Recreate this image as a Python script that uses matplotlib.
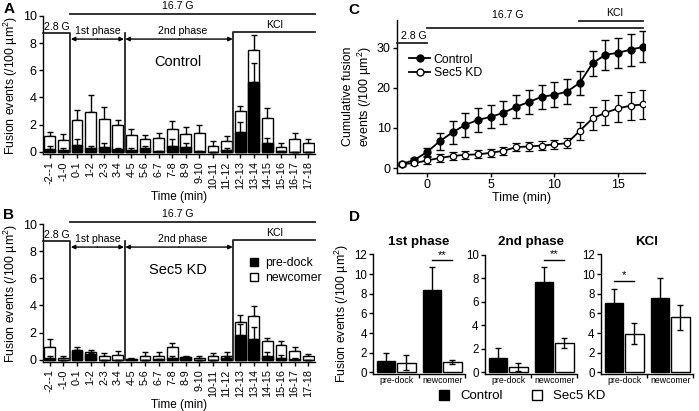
import matplotlib
matplotlib.use('Agg')
import matplotlib.pyplot as plt
from matplotlib.patches import Patch
from matplotlib.lines import Line2D
import numpy as np

plt.rcParams['font.family'] = ['Liberation Sans', 'DejaVu Sans']
plt.rcParams['mathtext.fontset'] = 'custom'
plt.rcParams['mathtext.rm'] = 'Liberation Sans'
plt.rcParams['mathtext.it'] = 'Liberation Sans:italic'
plt.rcParams['axes.linewidth'] = 1.0
plt.rcParams['xtick.major.width'] = 1.0
plt.rcParams['ytick.major.width'] = 1.0
plt.rcParams['xtick.major.size'] = 3
plt.rcParams['ytick.major.size'] = 3

# ---------------- data ----------------
time_bins = ['-2--1', '-1-0', '0-1', '1-2', '2-3', '3-4', '4-5', '5-6', '6-7', '7-8',
             '8-9', '9-10', '10-11', '11-12', '12-13', '13-14', '14-15', '15-16',
             '16-17', '17-18']

ctrl_total = [1.14, 0.86, 2.37, 2.9, 2.42, 1.98, 1.2, 0.96, 1.0, 1.68,
              1.3, 1.38, 0.44, 0.81, 3.0, 7.53, 2.5, 0.37, 0.94, 0.62]
ctrl_total_err = [0.29, 0.45, 0.67, 1.27, 0.91, 0.39, 0.45, 0.24, 0.36, 0.57,
                  0.55, 0.55, 0.33, 0.38, 0.38, 1.07, 0.73, 0.25, 0.44, 0.32]
ctrl_predock = [0.2, 0.12, 0.5, 0.3, 0.37, 0.2, 0.15, 0.3, 0.05, 0.4,
                0.37, 0.05, 0.0, 0.15, 1.48, 5.14, 0.62, 0.05, 0.0, 0.0]
ctrl_predock_err = [0.2, 0.12, 0.4, 0.15, 0.27, 0.1, 0.1, 0.1, 0.0, 0.5,
                    0.27, 0.0, 0.0, 0.12, 0.69, 1.4, 0.38, 0.0, 0.0, 0.0]

kd_total = [0.94, 0.1, 0.74, 0.57, 0.3, 0.34, 0.08, 0.3, 0.3, 0.91,
            0.2, 0.1, 0.3, 0.3, 2.78, 3.2, 1.38, 1.1, 0.64, 0.25]
kd_total_err = [0.61, 0.2, 0.2, 0.17, 0.2, 0.3, 0.05, 0.27, 0.27, 0.32,
                0.1, 0.2, 0.2, 0.25, 0.5, 0.79, 0.25, 0.25, 0.3, 0.15]
kd_predock = [0.1, 0.0, 0.62, 0.4, 0.0, 0.0, 0.08, 0.0, 0.05, 0.12,
              0.2, 0.0, 0.0, 0.1, 1.8, 1.55, 0.25, 0.1, 0.05, 0.0]
kd_predock_err = [0.2, 0.0, 0.12, 0.1, 0.0, 0.0, 0.0, 0.0, 0.0, 0.18,
                  0.0, 0.0, 0.0, 0.1, 0.86, 0.86, 0.32, 0.22, 0.1, 0.0]

cum_time = [-2, -1, 0, 1, 2, 3, 4, 5, 6, 7, 8, 9, 10, 11, 12, 13, 14, 15, 16, 17]
cum_ctrl = [1.0, 2.0, 4.0, 6.7, 8.9, 10.8, 12.0, 12.8, 13.8, 15.3,
            16.5, 17.8, 18.3, 19.1, 21.3, 26.2, 28.3, 28.8, 29.6, 30.3]
cum_ctrl_err = [0.4, 0.4, 1.0, 2.1, 2.9, 3.0, 2.9, 2.9, 2.9, 2.9,
                2.9, 3.0, 3.1, 3.2, 3.0, 3.1, 3.7, 3.8, 4.0, 3.9]
cum_kd = [1.0, 1.2, 1.9, 2.5, 3.0, 3.3, 3.4, 3.8, 4.3, 5.2,
          5.4, 5.6, 5.9, 6.2, 9.3, 12.4, 13.8, 14.9, 15.6, 15.9]
cum_kd_err = [0.3, 0.4, 0.8, 1.0, 1.0, 1.0, 1.0, 1.0, 1.0, 1.0,
              1.1, 1.2, 1.2, 1.3, 2.2, 2.8, 3.1, 3.3, 3.5, 3.6]

d_groups = ['pre-dock', 'newcomer']
d_titles = ['1st phase', '2nd phase', 'KCl']
d_ctrl = [[1.2, 8.4], [1.2, 7.65], [7.1, 7.6]]
d_ctrl_err = [[0.75, 2.35], [0.85, 1.3], [1.35, 2.05]]
d_kd = [[1.0, 1.05], [0.45, 2.5], [3.95, 5.6]]
d_kd_err = [[0.8, 0.22], [0.3, 0.4], [1.05, 1.25]]
d_ymax = [12, 10, 12]
d_sig = [('**', 1, 11.4), ('**', 1, 9.55), ('*', 0, 9.3)]

W, H = 699, 411
fig = plt.figure(figsize=(W / 100, H / 100), dpi=100)


def fr(left, top, right, bottom):
    return [left / W, 1 - bottom / H, (right - left) / W, (bottom - top) / H]


ylab = 'Fusion events (/100 µm$^2$)'


def bar_panel(ax, total, total_err, pre, pre_err, label):
    x = np.arange(len(time_bins))
    ax.bar(x, total, width=0.8, color='white', edgecolor='black', linewidth=1.0, zorder=2)
    ax.errorbar(x, total, yerr=[np.zeros(len(x)), total_err], fmt='none', ecolor='black',
                elinewidth=1.0, capsize=2.3, capthick=1.0, zorder=1)
    ax.bar(x, pre, width=0.8, color='black', edgecolor='black', linewidth=1.0, zorder=3)
    ax.errorbar(x, pre, yerr=[np.zeros(len(x)), pre_err], fmt='none', ecolor='black',
                elinewidth=1.0, capsize=2.3, capthick=1.0, zorder=4)
    ax.set_xlim(-0.5, 19.5)
    ax.set_ylim(-0.2, 10)
    ax.set_yticks([0, 2, 4, 6, 8, 10])
    ax.set_xticks(x)
    ax.set_xticklabels(time_bins, rotation=90, fontsize=7.8)
    ax.tick_params(axis='y', labelsize=9, pad=1.5)
    ax.tick_params(axis='x', pad=2)
    for s in ['top', 'right']:
        ax.spines[s].set_visible(False)
    ax.set_ylabel(ylab, fontsize=8.8, labelpad=2)
    ax.set_xlabel('Time (min)', fontsize=8.5, labelpad=1)
    lk = dict(color='#222222', lw=1.3, clip_on=False, zorder=5)
    ax.plot([1.5, 19.5], [10.12, 10.12], **lk)
    ax.text(9.4, 10.35, '16.7 G', fontsize=7.6, ha='center', va='bottom')
    ax.plot([-0.5, 1.5, 1.5], [8.75, 8.75, 0], **lk)
    ax.text(0.55, 8.85, '2.8 G', fontsize=7.6, ha='center', va='bottom')
    ax.plot([5.5, 5.5], [8.75, 0], **lk)
    ax.plot([13.5, 13.5, 19.5], [0, 8.8, 8.8], **lk)
    ax.text(16.55, 8.95, 'KCl', fontsize=7.6, ha='center', va='bottom')
    ap = dict(arrowstyle='-|>', color='black', lw=1.0, mutation_scale=6, shrinkA=0, shrinkB=0)
    for a, b, t in [(1.5, 5.5, '1st phase'), (5.5, 13.5, '2nd phase')]:
        ax.annotate('', xy=(a + 0.05, 8.3), xytext=((a + b) / 2, 8.3), arrowprops=ap)
        ax.annotate('', xy=(b - 0.05, 8.3), xytext=((a + b) / 2, 8.3), arrowprops=ap)
        ax.text((a + b) / 2 + (0.05 if t == '1st phase' else 0.3), 8.5, t, fontsize=7.6,
                ha='center', va='bottom')
    ax.text(9.45, 6.6, label, fontsize=10.5, ha='center', va='center')


axA = fig.add_axes(fr(43, 16, 315, 154.4))
bar_panel(axA, ctrl_total, ctrl_total_err, ctrl_predock, ctrl_predock_err, 'Control')
axB = fig.add_axes(fr(43, 224, 315, 362.4))
bar_panel(axB, kd_total, kd_total_err, kd_predock, kd_predock_err, 'Sec5 KD')
axB.legend(handles=[Patch(facecolor='black', edgecolor='black', label='pre-dock'),
                    Patch(facecolor='white', edgecolor='black', label='newcomer')],
           loc='upper left', bbox_to_anchor=(0.76, 0.76), frameon=False, fontsize=8.8,
           handlelength=0.7, handleheight=0.7, handletextpad=0.6, labelspacing=0.25,
           borderaxespad=0, borderpad=0)

# ---------------- panel C ----------------
axC = fig.add_axes(fr(397, 20, 645, 172.8))
axC.errorbar(cum_time, cum_ctrl, yerr=cum_ctrl_err, color='black', lw=1.3, marker='o',
             ms=5, mfc='black', mec='black', capsize=2.8, elinewidth=1.0, capthick=1.0,
             zorder=3)
axC.errorbar(cum_time, cum_kd, yerr=cum_kd_err, color='black', lw=1.3, marker='o',
             ms=4.6, mfc='white', mec='black', mew=0.9, capsize=2.8, elinewidth=1.0,
             capthick=1.0, zorder=3)
axC.set_xlim(-2.36, 17.12)
axC.set_ylim(-1.2, 37)
axC.set_xticks([0, 5, 10, 15])
axC.set_yticks([0, 10, 20, 30])
axC.tick_params(labelsize=9, pad=1.5)
for s in ['top', 'right']:
    axC.spines[s].set_visible(False)
axC.set_xlabel('Time (min)', fontsize=9, labelpad=1)
axC.set_ylabel('Cumulative fusion\nevents (/100 µm$^2$)', fontsize=9.0, labelpad=2,
               linespacing=1.1)
lk = dict(color='#222222', lw=1.3, clip_on=False, zorder=5)
axC.plot([-2.36, 0], [31.3, 31.3], **lk)
axC.text(-1.05, 31.7, '2.8 G', fontsize=7.6, ha='center', va='bottom')
axC.plot([0, 17], [34.9, 34.9], **lk)
axC.text(6.3, 37.1, '16.7 G', fontsize=7.6, ha='center', va='bottom')
axC.plot([11.95, 17], [36.8, 36.8], **lk)
axC.text(14.7, 37.6, 'KCl', fontsize=7.6, ha='center', va='bottom')
axC.legend(handles=[Line2D([], [], color='black', lw=1.3, marker='o', ms=5, mfc='black',
                           label='Control'),
                    Line2D([], [], color='black', lw=1.3, marker='o', ms=5, mfc='white',
                           label='Sec5 KD')],
           loc='upper left', bbox_to_anchor=(0.05, 0.78), frameon=False, fontsize=8.8,
           handlelength=1.7, handletextpad=0.3, labelspacing=0.15, borderaxespad=0,
           borderpad=0)

# ---------------- panel D ----------------
d_lefts = [373, 485, 601]
gc = np.array([1.16, 3.46])
for i in range(3):
    ymax = d_ymax[i]
    ax = fig.add_axes(fr(d_lefts[i], 254.5, d_lefts[i] + 92, 373.5))
    ax.bar(gc - 0.51, d_ctrl[i], width=0.93, color='black', edgecolor='black', lw=1.0,
           yerr=d_ctrl_err[i], capsize=2.5,
           error_kw=dict(elinewidth=1.0, capthick=1.0, ecolor='black'), zorder=2)
    ax.bar(gc + 0.51, d_kd[i], width=0.93, color='white', edgecolor='black', lw=1.0,
           yerr=d_kd_err[i], capsize=2.5,
           error_kw=dict(elinewidth=1.0, capthick=1.0, ecolor='black'), zorder=2)
    ax.set_xlim(0, 4.6)
    ax.set_ylim(-ymax * 0.01, ymax)
    ax.set_yticks(np.arange(0, ymax + 1, 2))
    ax.set_xticks(gc)
    ax.set_xticklabels(d_groups, fontsize=6.3)
    ax.tick_params(axis='x', length=0, pad=2)
    ax.set_xticks([2.31, 4.6], minor=True)
    ax.tick_params(axis='x', which='minor', length=3, width=1.0)
    ax.tick_params(axis='y', labelsize=8.3, pad=1.5)
    for s in ['top', 'right']:
        ax.spines[s].set_visible(False)
    ax.set_title(d_titles[i], fontsize=9.6, fontweight='bold', pad=7)
    star, g, y = d_sig[i]
    xs = gc[g] - 0.51, gc[g] + 0.51
    ax.plot([xs[0], xs[1]], [y, y], color='black', lw=1.0, clip_on=False)
    ax.text((xs[0] + xs[1]) / 2, y + ymax * 0.005, star, fontsize=8, ha='center',
            va='bottom')
    if i == 0:
        ax.set_ylabel(ylab, fontsize=8.8, labelpad=2)

fig.legend(handles=[Patch(facecolor='black', edgecolor='black', label='Control'),
                    Patch(facecolor='white', edgecolor='black', label='Sec5 KD')],
           loc='center', bbox_to_anchor=(522 / W, 1 - 396 / H), ncol=2, frameon=False,
           fontsize=9.5, handlelength=0.8, handleheight=0.8, handletextpad=0.8,
           columnspacing=2.2, borderpad=0)

# panel letters
for t, x, y in [('A', 9, 9), ('B', 9, 215), ('C', 354, 10), ('D', 354, 217)]:
    fig.text(x / W, 1 - y / H, t, fontsize=11, fontweight='bold', ha='center', va='center')

fig.savefig('out.png', dpi=100)
